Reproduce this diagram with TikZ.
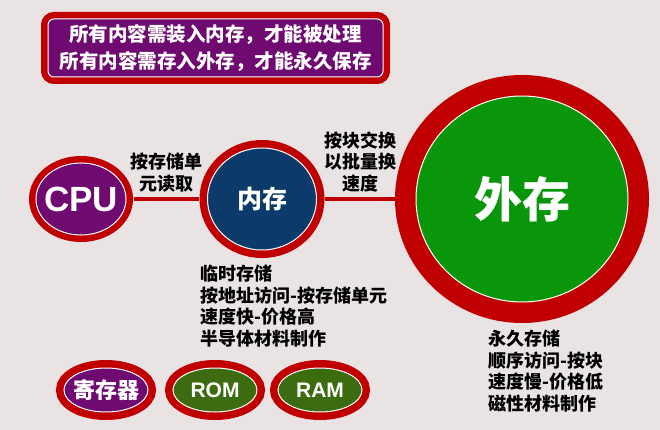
\documentclass[tikz,border=0pt]{standalone}
\usepackage{fontspec}
\setmainfont{Liberation Sans}
\newfontfamily\cjk{Noto Sans CJK SC}
\usetikzlibrary{shapes.geometric}
\definecolor{bgcol}{HTML}{E9E3E3}
\definecolor{ringred}{HTML}{C00000}
\definecolor{cpupurple}{HTML}{6E0A70}
\definecolor{memblue}{HTML}{0B3A6B}
\definecolor{diskgreen}{HTML}{0A960A}
\definecolor{romgreen}{HTML}{3D6B10}
\begin{document}
\begin{tikzpicture}[x=1pt,y=-1pt,
 ring/.style={ellipse,draw=white,line width=1pt,fill=#1,inner sep=0pt},
 rw/.style={preaction={draw=ringred,line width=#1}},
 link/.style={ringred,line width=4pt},
 every label/.style={text=white,inner sep=0pt},
 txt/.style={font=\cjk\bfseries\fontsize{18}{21.5}\selectfont,align=left,anchor=north west,inner sep=0pt},
 linktxt/.style={text=black,inner sep=0pt,align=center,font=\cjk\bfseries\fontsize{18}{21.5}\selectfont}]
 \fill[bgcol] (0,0) rectangle (660,430);
 % top note
 \node[fill=cpupurple,draw=white,line width=1pt,rounded corners=6pt,rw=14pt,
   minimum width=335pt,minimum height=58pt,text=white,align=center,
   font=\cjk\bfseries\fontsize{19.5}{27}\selectfont] (note) at (215.5,48)
   {所有内容需装入内存，才能被处理\\所有内容需存入外存，才能永久保存};
 % main row
 \node[ring=cpupurple,rw=14pt,minimum width=90pt,minimum height=72pt,
   label={[font=\bfseries\fontsize{35}{35}\selectfont]center:CPU}] (cpu) at (81,199) {};
 \node[ring=memblue,rw=16pt,minimum width=109pt,minimum height=102pt,
   label={[font=\cjk\bfseries\fontsize{25}{25}\selectfont]center:内存}] (neicun) at (262,199) {};
 \node[ring=diskgreen,rw=42pt,minimum width=212pt,minimum height=206pt,
   label={[font=\cjk\bfseries\fontsize{48}{48}\selectfont]center:外存}] (waicun) at (522,199) {};
 \draw[link,shorten <=7pt,shorten >=8pt] (cpu) -- node[above=5pt,linktxt] (readlabel) {按存储单\\元读取} (neicun);
 \draw[link,shorten <=8pt,shorten >=21pt] (neicun) -- node[above=5pt,xshift=-6pt,linktxt] (swaplabel) {按块交换\\以批量换\\速度} (waicun);
 % notes under the memories
 \node[txt] (neicuninfo) at (200,265) {临时存储\\按地址访问-按存储单元\\速度快-价格高\\半导体材料制作};
 \node[txt] (waicuninfo) at (488,330) {永久存储\\顺序访问-按块\\速度慢-价格低\\磁性材料制作};
 % bottom row
 \node[ring=cpupurple,rw=16pt,minimum width=84pt,minimum height=44pt,
   label={[font=\cjk\bfseries\fontsize{22}{22}\selectfont]center:寄存器}] (reg) at (106,390) {};
 \node[ring=romgreen,rw=16pt,minimum width=84pt,minimum height=44pt,
   label={[font=\bfseries\fontsize{21}{21}\selectfont]center:ROM}] (rom) at (215,390) {};
 \node[ring=romgreen,rw=16pt,minimum width=84pt,minimum height=44pt,
   label={[font=\bfseries\fontsize{21}{21}\selectfont]center:RAM}] (ram) at (320,390) {};
\end{tikzpicture}
\end{document}
